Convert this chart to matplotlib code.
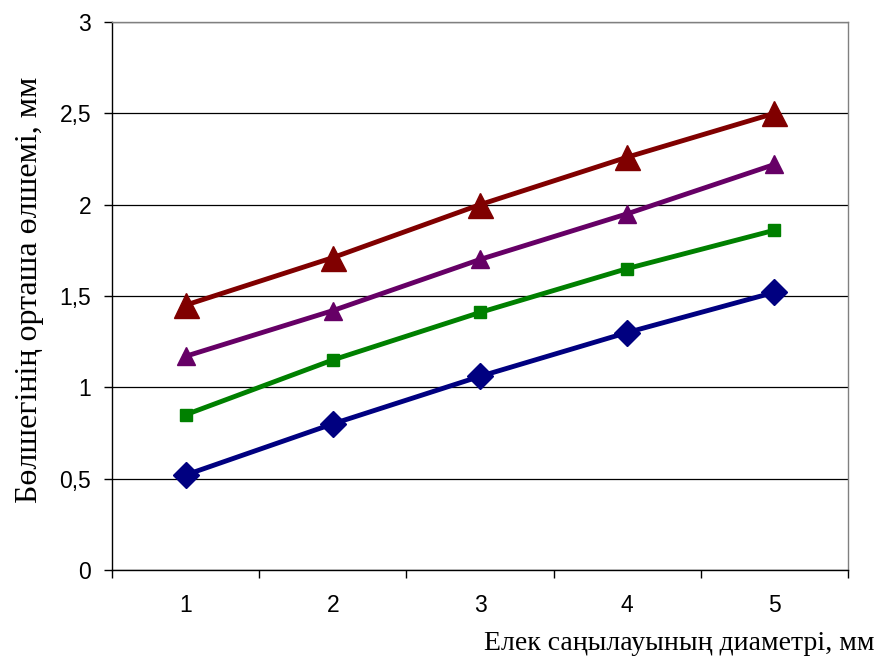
import numpy as np
import matplotlib.pyplot as plt
from matplotlib.ticker import FixedLocator, NullFormatter

# sieve hole diameter categories and mean particle size series
categories = [1, 2, 3, 4, 5]
series_red = [1.45, 1.71, 2.00, 2.26, 2.50]
series_purple = [1.17, 1.42, 1.70, 1.95, 2.22]
series_green = [0.85, 1.15, 1.41, 1.65, 1.86]
series_navy = [0.52, 0.80, 1.06, 1.30, 1.52]
y_ticks = [0, 0.5, 1, 1.5, 2, 2.5, 3]
y_tick_labels = ['0', '0,5', '1', '1,5', '2', '2,5', '3']

fig = plt.figure(figsize=(8.76, 6.6), dpi=100)
ax = fig.add_axes([112 / 876, 1 - 570 / 660, (848 - 112) / 876, (570 - 22) / 660])

ax.plot(categories, series_navy, color='#000080', lw=3.5, marker='D', markersize=13, zorder=3)
ax.plot(categories, series_green, color='#008000', lw=3.5, marker='s', markersize=8.5, zorder=3)
ax.plot(categories, series_purple, color='#660066', lw=3.5, marker='^', markersize=13, zorder=3)
ax.plot(categories, series_red, color='#800000', lw=3.5, marker='^', markersize=18, zorder=3)

ax.set_xlim(0.5, 5.5)
ax.set_ylim(0, 3)

# y axis
ax.set_yticks(y_ticks)
ax.set_yticklabels(y_tick_labels, fontfamily='Liberation Sans', fontsize=16.5)
ax.grid(axis='y', color='black', lw=0.9)
ax.set_axisbelow(True)

# x axis: labels at categories, tick marks between them
ax.set_xticks(categories)
ax.set_xticklabels([str(c) for c in categories], fontfamily='Liberation Sans', fontsize=16.5)
ax.xaxis.set_minor_locator(FixedLocator(np.arange(0.5, 6.0, 1.0)))
ax.xaxis.set_minor_formatter(NullFormatter())
ax.tick_params(axis='x', which='major', length=0, pad=17)
ax.tick_params(axis='x', which='minor', length=6, width=1, direction='out')
ax.tick_params(axis='y', length=6, width=1, direction='out', pad=9)

for s in ['top', 'right']:
    ax.spines[s].set_color('#808080')
    ax.spines[s].set_linewidth(1)
for s in ['left', 'bottom']:
    ax.spines[s].set_color('black')
    ax.spines[s].set_linewidth(1)

fig.text(875 / 876, 1 - 643 / 660, 'Елек саңылауының диаметрі, мм',
         ha='right', va='center', fontfamily='Liberation Serif', fontsize=20)
fig.text(30 / 876, 1 - 290 / 660, 'Бөлшегінің орташа өлшемі, мм',
         ha='center', va='center', rotation=90, fontfamily='Liberation Serif', fontsize=23)

fig.savefig('out.png', dpi=100)
